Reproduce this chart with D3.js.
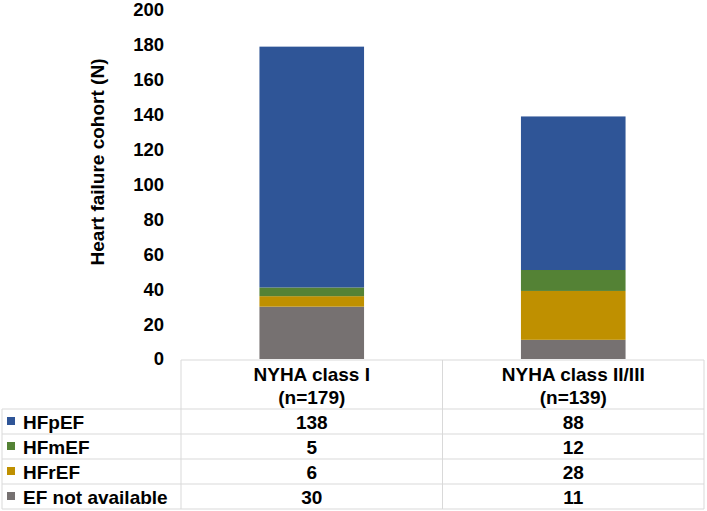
<!DOCTYPE html>
<html>
<head>
<meta charset="utf-8">
<script src="https://cdn.jsdelivr.net/npm/d3@7"></script>
<style>
  body { margin: 0; background: #fff; }
  text { font-family: "Liberation Sans", Arial, sans-serif; font-weight: bold; fill: #000; }
</style>
</head>
<body>
<div id="chart"></div>
<script>
var groups = ["NYHA class I", "NYHA class II/III"];
var groupN = ["(n=179)", "(n=139)"];
var series = ["EF not available", "HFrEF", "HFmEF", "HFpEF"];
var tableOrder = ["HFpEF", "HFmEF", "HFrEF", "EF not available"];
var hfpef = [138, 88];
var hfmef = [5, 12];
var hfref = [6, 28];
var efna = [30, 11];
var yTicks = [0, 20, 40, 60, 80, 100, 120, 140, 160, 180, 200];

var colors = {
  "HFpEF": "#2F5597",
  "HFmEF": "#548235",
  "HFrEF": "#BF9000",
  "EF not available": "#767171"
};

var values = { "HFpEF": hfpef, "HFmEF": hfmef, "HFrEF": hfref, "EF not available": efna };

var rows = groups.map(function(g, i) {
  var r = { group: g };
  series.forEach(function(s) { r[s] = values[s][i]; });
  return r;
});

var W = 707, H = 511;
var svg = d3.select("#chart").append("svg")
  .attr("width", W).attr("height", H);

var x = d3.scaleBand().domain(groups).range([181, 704]).padding(0);
var y = d3.scaleLinear().domain([0, 200]).range([359, 10]);

var stack = d3.stack().keys(series)(rows);
var barW = x.bandwidth() * 0.4;

svg.append("g").selectAll("g")
  .data(stack)
  .join("g")
  .attr("fill", function(d) { return colors[d.key]; })
  .selectAll("rect")
  .data(function(d) { return d; })
  .join("rect")
  .attr("x", function(d) { return x(d.data.group) + (x.bandwidth() - barW) / 2; })
  .attr("y", function(d) { return y(d[1]); })
  .attr("width", barW)
  .attr("height", function(d) { return y(d[0]) - y(d[1]); });

// y axis: labels only
var yAxis = d3.axisLeft(y).tickValues(yTicks).tickSize(0).tickPadding(0);
var gy = svg.append("g")
  .attr("transform", "translate(164,0)")
  .call(yAxis);
gy.select(".domain").remove();
gy.selectAll("text")
  .style("font-size", "18.5px")
  .style("font-family", "Liberation Sans, Arial, sans-serif")
  .style("font-weight", "bold")
  .attr("fill", "#000");

svg.append("text")
  .attr("transform", "translate(104,162) rotate(-90)")
  .attr("text-anchor", "middle")
  .style("font-size", "19px")
  .text("Heart failure cohort (N)");

// data table
var lineColor = "#d9d9d9";
var tTop = 360, headBottom = 409, rowH = 25;
var rowY = d3.scaleBand().domain(tableOrder)
  .range([headBottom, headBottom + rowH * tableOrder.length]);

var grid = svg.append("g").attr("stroke", lineColor).attr("stroke-width", 1).attr("fill", "none");
// header box
grid.append("line").attr("x1", 181).attr("x2", 704).attr("y1", tTop).attr("y2", tTop);
grid.append("line").attr("x1", 181).attr("x2", 181).attr("y1", tTop).attr("y2", headBottom);
// horizontal row lines
tableOrder.forEach(function(s) {
  grid.append("line").attr("x1", 2).attr("x2", 704)
    .attr("y1", rowY(s)).attr("y2", rowY(s));
});
var tBottom = headBottom + rowH * tableOrder.length;
grid.append("line").attr("x1", 2).attr("x2", 704).attr("y1", tBottom).attr("y2", tBottom);
// vertical lines
grid.append("line").attr("x1", 2).attr("x2", 2).attr("y1", headBottom).attr("y2", tBottom);
groups.forEach(function(g) {
  grid.append("line").attr("x1", x(g)).attr("x2", x(g)).attr("y1", g === groups[0] ? headBottom : tTop).attr("y2", tBottom);
});
grid.append("line").attr("x1", 704).attr("x2", 704).attr("y1", tTop).attr("y2", tBottom);

// header text
groups.forEach(function(g, i) {
  var cx = x(g) + x.bandwidth() / 2;
  svg.append("text").attr("x", cx).attr("y", 381).attr("text-anchor", "middle")
    .style("font-size", "19px").text(g);
  svg.append("text").attr("x", cx).attr("y", 404).attr("text-anchor", "middle")
    .style("font-size", "19px").text(groupN[i]);
});

// row labels with legend keys
tableOrder.forEach(function(s) {
  var cy = rowY(s) + rowH / 2;
  svg.append("rect").attr("x", 7).attr("y", cy - 4.5).attr("width", 8).attr("height", 8)
    .attr("fill", colors[s]);
  svg.append("text").attr("x", 23).attr("y", cy + 7)
    .style("font-size", "19px").text(s);
  groups.forEach(function(g, i) {
    svg.append("text").attr("x", x(g) + x.bandwidth() / 2).attr("y", cy + 7)
      .attr("text-anchor", "middle").style("font-size", "19px").text(values[s][i]);
  });
});
</script>
</body>
</html>
